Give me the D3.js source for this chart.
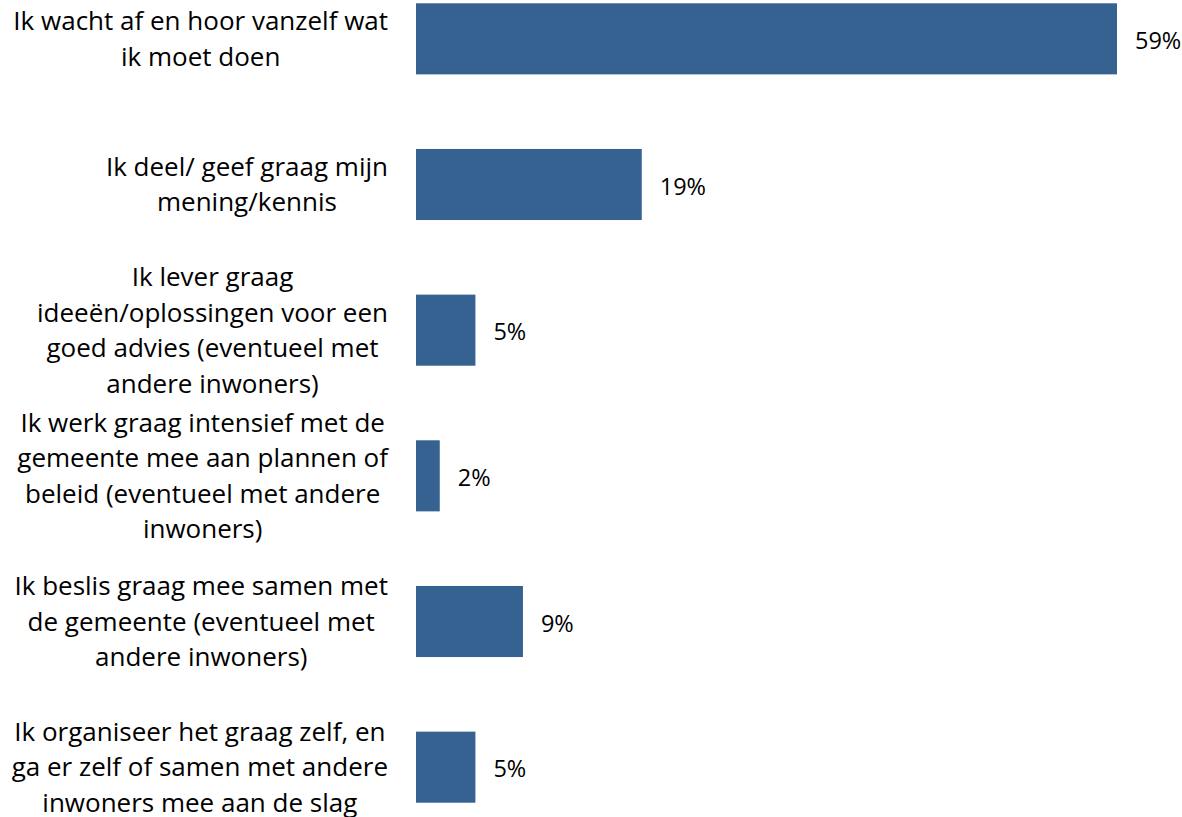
<!DOCTYPE html>
<html>
  <style>
    body { margin: 0; background: #fff; }
    text { font-family: "Open Sans", Calibri, sans-serif; fill: #000; }
  </style>
  <body>
    <div id="chart"></div>
  </body>
  <script src="https://d3js.org/d3.v7.min.js"></script>
  <script>
    // Answer categories, split in lines as in the original
    const CATEGORIES = [
      ['Ik wacht af en hoor vanzelf wat', 'ik moet doen'],
      ['Ik deel/ geef graag mijn', 'mening/kennis'],
      ['Ik lever graag', 'ideeën/oplossingen voor een', 'goed advies (eventueel met', 'andere inwoners)'],
      ['Ik werk graag intensief met de', 'gemeente mee aan plannen of', 'beleid (eventueel met andere', 'inwoners)'],
      ['Ik beslis graag mee samen met', 'de gemeente (eventueel met', 'andere inwoners)'],
      ['Ik organiseer het graag zelf, en', 'ga er zelf of samen met andere', 'inwoners mee aan de slag']
    ]
    const VALUES = [59, 19, 5, 2, 9, 5]

    var WIDTH = 1182, HEIGHT = 817
    var svg = d3.select('#chart').append('svg')
      .attr('width', WIDTH)
      .attr('height', HEIGHT)

    var x = d3.scaleLinear().domain([0, 59]).range([416, 1117])
    var y = d3.scaleBand().domain(d3.range(VALUES.length))
      .range([-34, 840]).paddingInner(0.512).paddingOuter(0.256)

    var LINE_H = 35.5
    var LABEL_RIGHT = 388

    // Bars
    svg.selectAll('rect.bar')
      .data(VALUES)
      .enter()
      .append('rect')
      .attr('class', 'bar')
      .attr('x', x(0))
      .attr('y', function (d, i) { return y(i); })
      .attr('width', function (d) { return x(d) - x(0); })
      .attr('height', y.bandwidth())
      .style('fill', '#356290')

    // Value labels
    svg.selectAll('text.value')
      .data(VALUES)
      .enter()
      .append('text')
      .attr('class', 'value')
      .attr('x', function (d) { return x(d) + 18; })
      .attr('y', function (d, i) { return y(i) + y.bandwidth() / 2 + 2; })
      .attr('dy', '0.35em')
      .style('font-size', '23.5px')
      .text(function (d) { return d + '%'; })

    // Category labels: lines centred, block right-aligned against the bars
    var labels = svg.selectAll('text.cat')
      .data(CATEGORIES)
      .enter()
      .append('text')
      .attr('class', 'cat')
      .attr('text-anchor', 'middle')
      .style('font-size', '26px')

    labels.each(function (lines, i) {
      var cy = y(i) + y.bandwidth() / 2
      var top = cy - (lines.length - 1) * LINE_H / 2
      var spans = d3.select(this).selectAll('tspan')
        .data(lines)
        .enter()
        .append('tspan')
        .attr('y', function (l, j) { return top + j * LINE_H; })
        .attr('dy', '0.35em')
        .text(function (l) { return l; })
      var maxW = d3.max(spans.nodes(), function (n) { return n.getComputedTextLength(); })
      spans.attr('x', LABEL_RIGHT - maxW / 2)
    })
  </script>
</html>
